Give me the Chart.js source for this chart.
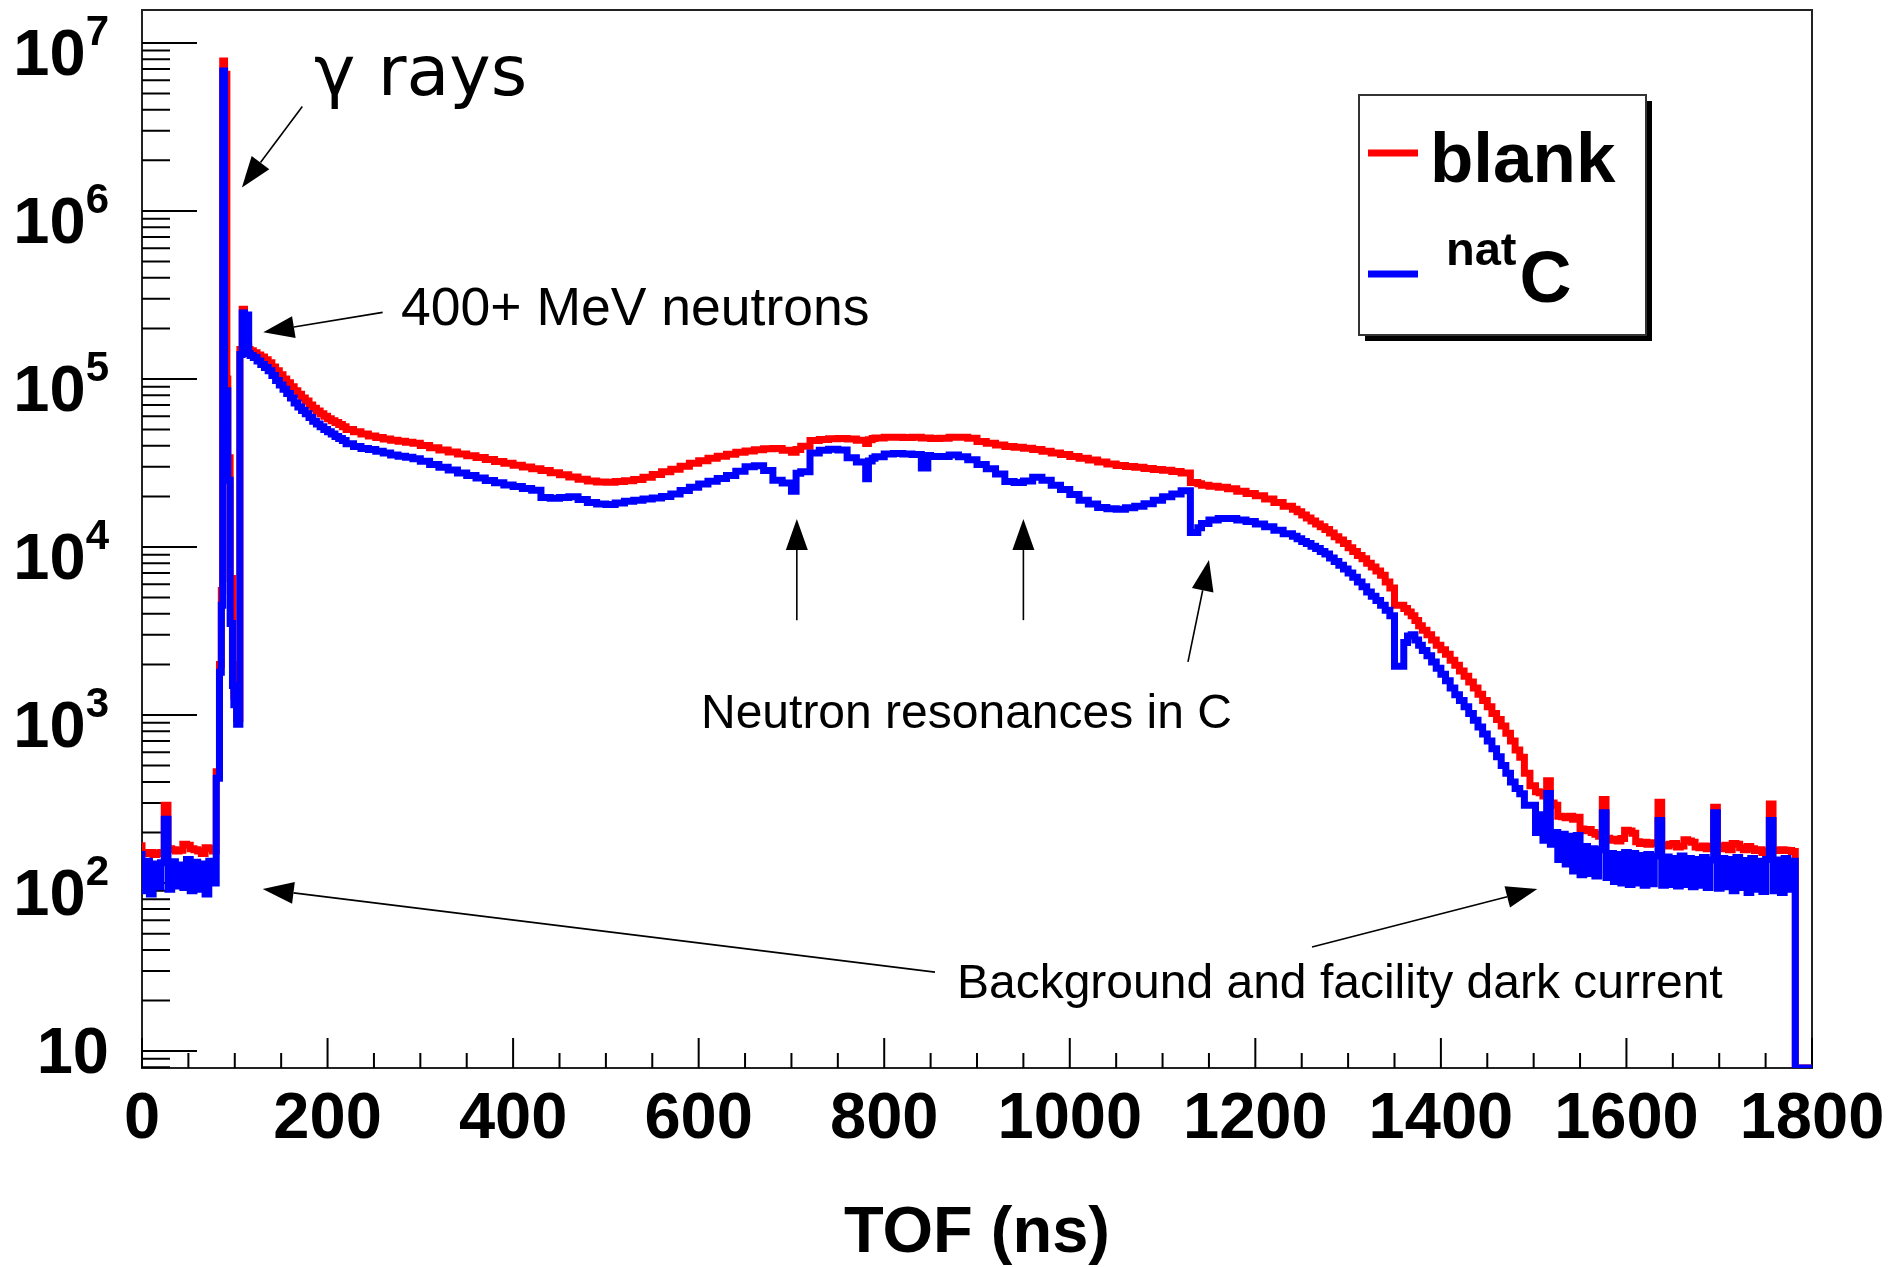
<!DOCTYPE html>
<html>
<head>
<meta charset="utf-8">
<title>TOF spectrum: blank vs natC</title>
<script src="https://cdn.jsdelivr.net/npm/chart.js@4.4.1/dist/chart.umd.min.js"></script>
<style>
  html, body { margin: 0; padding: 0; background: #fff; }
  #wrap { width: 1888px; height: 1267px; position: relative; }
</style>
</head>
<body>
<div id="wrap"><canvas id="tofChart"></canvas></div>
<script>
// Histogram bin low edges (ns). Fine bins around the gamma flash, the steep
// parts and the narrow carbon resonances, 4 ns bins in the background tails.
const tofEdges = [
  0, 4, 8, 12, 16, 20, 24, 28, 32, 36, 40, 44, 48, 52, 56, 60, 64, 68, 72, 76,
  80, 83.5, 85.5, 87, 89, 91.5, 92.5, 95, 97.5, 99, 102, 105.5, 108, 110.5, 115, 116.5, 120,
  124, 128, 132, 136, 140, 144, 148, 152, 156, 160,
  164, 168, 172, 176, 180, 184, 188, 192, 196, 200,
  204, 208, 212, 216,
  220, 228, 236, 244, 252, 260, 268, 276, 284, 292,
  300, 310, 320, 330, 340, 350, 360, 370, 380, 390,
  400, 410, 420, 430, 440, 450, 460, 470, 480, 490,
  500, 510, 520, 530, 540, 550, 560, 570, 580, 590,
  600, 610, 620, 630, 640, 650, 660, 670, 680, 690,
  700, 705, 710, 720, 730, 740, 750, 760, 770, 780,
  783, 787, 790, 800, 810, 820, 830, 840, 847, 850,
  860, 870, 880, 890, 900, 910, 920, 930, 940, 950,
  960, 970, 980, 990, 1000, 1010, 1020, 1030, 1040, 1050,
  1060, 1070, 1080, 1090, 1100, 1110, 1120, 1130, 1138, 1142,
  1150, 1160, 1170, 1180, 1190, 1200, 1210, 1220, 1230,
  1240, 1245, 1250, 1255, 1260, 1265, 1270, 1275, 1280, 1285,
  1290, 1295, 1300, 1305, 1310, 1315, 1320, 1325, 1330, 1335,
  1340, 1345, 1350, 1360, 1364, 1368, 1372, 1376, 1380, 1385,
  1390, 1395, 1400, 1405, 1410, 1415, 1420, 1425, 1430, 1435,
  1440, 1445, 1450, 1455, 1460, 1465, 1470, 1475, 1480, 1485,
  1490, 1496,
  1502, 1506, 1510, 1514, 1518, 1522, 1526, 1530, 1534, 1538,
  1542, 1546, 1550, 1554, 1558, 1562, 1566, 1570, 1574, 1578,
  1582, 1586, 1590, 1594, 1598, 1602, 1606, 1610, 1614, 1618,
  1622, 1626, 1630, 1634, 1638, 1642, 1646, 1650, 1654, 1658,
  1662, 1666, 1670, 1674, 1678, 1682, 1686, 1690, 1694, 1698,
  1702, 1706, 1710, 1714, 1718, 1722, 1726, 1730, 1734, 1738,
  1742, 1746, 1750, 1754, 1758, 1762, 1766, 1770, 1774, 1778,
  1782, 1786
];

// counts per bin, no target
const blankCounts = [
  175, 152, 150, 152, 148, 150, 152, 290, 160, 158, 155, 157, 170, 168, 160, 158, 155, 150, 162, 160,
  155, 460, 2000, 5500, 7.8e6, 6.5e6, 1.0e5, 3.4e4, 6.5e3, 2.0e3, 1.3e3, 950, 1.5e5, 2.6e5, 1.55e5, 1.5e5, 1.47e5,
  1.43e5, 1.39e5, 1.35e5, 1.3e5, 1.25e5, 1.18e5, 1.12e5, 1.06e5, 1.0e5, 9.5e4,
  9.0e4, 8.5e4, 8.1e4, 7.7e4, 7.4e4, 7.0e4, 6.7e4, 6.45e4, 6.2e4, 6.0e4,
  5.8e4, 5.65e4, 5.5e4, 5.35e4,
  5.2e4, 5.0e4, 4.85e4, 4.7e4, 4.58e4, 4.48e4, 4.4e4, 4.32e4, 4.26e4, 4.2e4,
  4.15e4, 4.02e4, 3.9e4, 3.78e4, 3.68e4, 3.58e4, 3.49e4, 3.41e4, 3.32e4, 3.23e4,
  3.15e4, 3.07e4, 2.99e4, 2.92e4, 2.85e4, 2.77e4, 2.69e4, 2.61e4, 2.53e4, 2.47e4,
  2.44e4, 2.43e4, 2.45e4, 2.48e4, 2.52e4, 2.6e4, 2.7e4, 2.8e4, 2.9e4, 3.02e4,
  3.15e4, 3.26e4, 3.37e4, 3.47e4, 3.57e4, 3.66e4, 3.73e4, 3.79e4, 3.84e4, 3.86e4,
  3.76e4, 3.66e4, 3.8e4, 3.98e4, 4.3e4, 4.37e4, 4.41e4, 4.42e4, 4.4e4, 4.32e4,
  4.13e4, 4.35e4, 4.43e4, 4.45e4, 4.5e4, 4.5e4, 4.48e4, 4.5e4, 4.45e4, 4.46e4,
  4.42e4, 4.44e4, 4.5e4, 4.5e4, 4.44e4, 4.25e4, 4.15e4, 4.05e4, 3.96e4, 3.92e4,
  3.87e4, 3.8e4, 3.72e4, 3.63e4, 3.55e4, 3.46e4, 3.37e4, 3.29e4, 3.2e4, 3.12e4,
  3.06e4, 3.01e4, 2.98e4, 2.93e4, 2.89e4, 2.86e4, 2.81e4, 2.76e4, 2.42e4, 2.38e4,
  2.33e4, 2.3e4, 2.27e4, 2.22e4, 2.15e4, 2.08e4, 2.02e4, 1.93e4, 1.84e4,
  1.75e4, 1.68e4, 1.62e4, 1.55e4, 1.49e4, 1.43e4, 1.37e4, 1.32e4, 1.27e4, 1.21e4,
  1.15e4, 1.1e4, 1.05e4, 9.9e3, 9.4e3, 8.9e3, 8.5e3, 8.0e3, 7.6e3, 7.2e3,
  6.8e3, 6.2e3, 5.7e3, 4.5e3, 4.3e3, 4.1e3, 3.9e3, 3.65e3, 3.4e3, 3.2e3,
  3.0e3, 2.8e3, 2.6e3, 2.45e3, 2.3e3, 2.12e3, 1.98e3, 1.83e3, 1.7e3, 1.57e3,
  1.45e3, 1.33e3, 1.22e3, 1.12e3, 1.02e3, 940, 860, 780, 700, 620,
  560, 450,
  380, 350, 345, 330, 406, 300, 290, 250, 248, 245,
  250, 240, 246, 210, 205, 208, 200, 195, 190, 314,
  185, 180, 182, 178, 184, 206, 204, 198, 176, 172,
  175, 170, 174, 172, 303, 168, 166, 170, 172, 164,
  166, 181, 178, 175, 164, 162, 166, 160, 165, 283,
  165, 160, 168, 158, 172, 170, 162, 158, 165, 160,
  156, 158, 152, 155, 295, 157, 156, 158, 157, 156,
  154, 0
];

// counts per bin, natural carbon target in the beam
const natCCounts = [
  155, 90, 135, 86, 130, 95, 132, 240, 92, 134, 96, 128, 94, 138, 90, 133, 92, 130, 86, 135,
  100, 420, 1800, 4500, 6.8e6, 8.5e4, 8.5e4, 2.5e4, 3.5e3, 1.5e3, 1.15e3, 880, 1.4e5, 2.47e5, 2.4e5, 1.42e5, 1.38e5,
  1.34e5, 1.28e5, 1.22e5, 1.17e5, 1.12e5, 1.05e5, 9.8e4, 9.2e4, 8.7e4, 8.2e4,
  7.7e4, 7.2e4, 6.8e4, 6.5e4, 6.2e4, 5.9e4, 5.6e4, 5.4e4, 5.2e4, 5.0e4,
  4.85e4, 4.7e4, 4.55e4, 4.42e4,
  4.3e4, 4.12e4, 3.97e4, 3.86e4, 3.8e4, 3.72e4, 3.62e4, 3.53e4, 3.47e4, 3.42e4,
  3.35e4, 3.24e4, 3.1e4, 2.98e4, 2.87e4, 2.76e4, 2.66e4, 2.57e4, 2.49e4, 2.41e4,
  2.34e4, 2.29e4, 2.23e4, 2.18e4, 1.97e4, 1.95e4, 1.97e4, 1.99e4, 1.92e4, 1.84e4,
  1.8e4, 1.79e4, 1.83e4, 1.87e4, 1.9e4, 1.93e4, 1.96e4, 2.0e4, 2.07e4, 2.17e4,
  2.27e4, 2.37e4, 2.46e4, 2.56e4, 2.66e4, 2.82e4, 3.0e4, 3.04e4, 2.85e4, 2.5e4,
  2.4e4, 2.15e4, 2.75e4, 2.8e4, 3.62e4, 3.76e4, 3.82e4, 3.78e4, 3.4e4, 3.2e4,
  2.55e4, 3.25e4, 3.37e4, 3.45e4, 3.58e4, 3.6e4, 3.58e4, 3.55e4, 2.95e4, 3.5e4,
  3.46e4, 3.46e4, 3.53e4, 3.45e4, 3.3e4, 3.1e4, 2.92e4, 2.72e4, 2.45e4, 2.42e4,
  2.47e4, 2.6e4, 2.5e4, 2.33e4, 2.2e4, 2.05e4, 1.9e4, 1.8e4, 1.72e4, 1.69e4,
  1.68e4, 1.71e4, 1.75e4, 1.81e4, 1.9e4, 1.99e4, 2.07e4, 2.16e4, 1.22e4, 1.3e4,
  1.38e4, 1.45e4, 1.48e4, 1.48e4, 1.45e4, 1.42e4, 1.37e4, 1.32e4, 1.26e4,
  1.2e4, 1.16e4, 1.12e4, 1.08e4, 1.05e4, 1.01e4, 9.8e3, 9.4e3, 9.1e3, 8.6e3,
  8.2e3, 7.8e3, 7.4e3, 7.0e3, 6.6e3, 6.2e3, 5.8e3, 5.4e3, 5.1e3, 4.8e3,
  4.5e3, 4.2e3, 3.9e3, 1.95e3, 2.7e3, 2.95e3, 3.0e3, 2.8e3, 2.6e3, 2.42e3,
  2.25e3, 2.07e3, 1.9e3, 1.75e3, 1.6e3, 1.45e3, 1.32e3, 1.22e3, 1.12e3, 1.02e3,
  930, 850, 770, 700, 630, 565, 500, 450, 400, 365,
  340, 290,
  290, 200, 255, 180, 341, 170, 200, 138, 195, 130,
  190, 118, 192, 112, 165, 114, 160, 110, 158, 262,
  108, 150, 102, 148, 100, 152, 98, 150, 100, 146,
  97, 148, 99, 145, 236, 97, 143, 98, 140, 96,
  145, 98, 140, 95, 138, 97, 142, 94, 137, 262,
  93, 140, 95, 138, 90, 142, 94, 136, 88, 140,
  92, 135, 89, 138, 236, 90, 137, 88, 140, 92,
  135, 0
];

const seriesLabels = ['blank', 'natC'];
const seriesColors = ['#ff0000', '#0000ff'];

// axis ranges and ticks
const TOF_MAX = 1800;
const Y_MIN = 7.93;
const Y_MAX = 1.57e7;
const xMajorTicks = [0, 200, 400, 600, 800, 1000, 1200, 1400, 1600, 1800];
const xMinorTicks = [50, 100, 150, 250, 300, 350, 450, 500, 550, 650, 700, 750,
  850, 900, 950, 1050, 1100, 1150, 1250, 1300, 1350, 1450, 1500, 1550, 1650, 1700, 1750];
const xTickLabels = ['0', '200', '400', '600', '800', '1000', '1200', '1400', '1600', '1800'];
const yDecades = [1, 2, 3, 4, 5, 6, 7];
const yMinorMantissas = [2, 3, 4, 5, 6, 7, 8, 9];

// annotations, placed in data coordinates (TOF ns, counts)
const notes = [
  { text: 'γ rays', tof: 185.4, counts: 4.9e6, font: '70px "DejaVu Sans"' },
  { text: '400+ MeV neutrons', tof: 279.2, counts: 2.1e5, font: '53.5px "Liberation Sans"' },
  { text: 'Neutron resonances in C', tof: 602.5, counts: 837, font: '48px "Liberation Sans"' },
  { text: 'Background and facility dark current', tof: 878.4, counts: 20.7, font: '48px "Liberation Sans"' }
];
const arrows = [
  { from: [172.8, 4.18e6], to: [107.7, 1.38e6] },
  { from: [259.4, 2.49e5], to: [130.7, 1.9e5] },
  { from: [705.8, 3.67e3], to: [705.8, 1.47e4] },
  { from: [950.0, 3.67e3], to: [950.0, 1.47e4] },
  { from: [1127.4, 2.07e3], to: [1150.0, 8.38e3] },
  { from: [854.7, 29.5], to: [130.1, 92.1] },
  { from: [1261.1, 41.6], to: [1503.9, 92.1] }
];

if (blankCounts.length !== tofEdges.length || natCCounts.length !== tofEdges.length) {
  console.error('bin count mismatch', tofEdges.length, blankCounts.length, natCCounts.length);
}

// empty bins sit on the bottom of the frame, like ROOT does on a log axis
function histPoints(counts) {
  const pts = tofEdges.map((t, i) => ({ x: t, y: counts[i] > 0 ? counts[i] : Y_MIN }));
  const last = counts[counts.length - 1];
  pts.push({ x: TOF_MAX, y: last > 0 ? last : Y_MIN });
  return pts;
}

const AXIS_FONT = '"Liberation Sans", Arial, sans-serif';

function drawArrow(ctx, x1, y1, x2, y2) {
  const ang = Math.atan2(y2 - y1, x2 - x1);
  const len = 31, half = 11;
  const bx = x2 - len * Math.cos(ang), by = y2 - len * Math.sin(ang);
  ctx.beginPath();
  ctx.moveTo(x1, y1);
  ctx.lineTo(bx, by);
  ctx.stroke();
  ctx.beginPath();
  ctx.moveTo(x2, y2);
  ctx.lineTo(bx + half * Math.sin(ang), by - half * Math.cos(ang));
  ctx.lineTo(bx - half * Math.sin(ang), by + half * Math.cos(ang));
  ctx.closePath();
  ctx.fill();
}

// frame, ticks and axis labels in ROOT style
const rootAxes = {
  id: 'rootAxes',
  beforeDatasetsDraw(chart) {
    const { ctx, chartArea: a, scales: { x, y } } = chart;
    ctx.save();
    ctx.strokeStyle = '#222';
    ctx.lineWidth = 2;
    ctx.strokeRect(a.left, a.top, a.right - a.left, a.bottom - a.top);

    ctx.strokeStyle = '#000';
    ctx.beginPath();
    xMajorTicks.forEach(v => {
      const px = x.getPixelForValue(v);
      ctx.moveTo(px, a.bottom); ctx.lineTo(px, a.bottom - 30);
    });
    xMinorTicks.forEach(v => {
      const px = x.getPixelForValue(v);
      ctx.moveTo(px, a.bottom); ctx.lineTo(px, a.bottom - 15);
    });
    yDecades.forEach(d => {
      const py = y.getPixelForValue(Math.pow(10, d));
      ctx.moveTo(a.left, py); ctx.lineTo(a.left + 55, py);
    });
    [0].concat(yDecades).forEach(d => {
      yMinorMantissas.forEach(m => {
        const v = m * Math.pow(10, d);
        if (v < Y_MIN || v > Y_MAX) return;
        const py = y.getPixelForValue(v);
        ctx.moveTo(a.left, py); ctx.lineTo(a.left + 28, py);
      });
    });
    ctx.stroke();

    ctx.fillStyle = '#000';
    ctx.font = 'bold 65px ' + AXIS_FONT;
    ctx.textAlign = 'center';
    ctx.textBaseline = 'alphabetic';
    xMajorTicks.forEach((v, i) => {
      ctx.fillText(xTickLabels[i], x.getPixelForValue(v), a.bottom + 70);
    });

    const right = a.left - 33;
    ctx.textAlign = 'right';
    yDecades.forEach(d => {
      const py = y.getPixelForValue(Math.pow(10, d));
      if (d === 1) {
        ctx.font = 'bold 65px ' + AXIS_FONT;
        ctx.fillText('10', right, py + 22);
        return;
      }
      const sup = String(d);
      ctx.font = 'bold 42px ' + AXIS_FONT;
      const w = ctx.measureText(sup).width;
      ctx.fillText(sup, right, py + 2);
      ctx.font = 'bold 65px ' + AXIS_FONT;
      ctx.fillText('10', right - w, py + 32);
    });

    ctx.textAlign = 'center';
    ctx.font = 'bold 65px ' + AXIS_FONT;
    ctx.fillText('TOF (ns)', (a.left + a.right) / 2, a.bottom + 184);
    ctx.restore();
  },

  afterDatasetsDraw(chart) {
    const { ctx, scales: { x, y } } = chart;
    ctx.save();

    // legend box with ROOT drop shadow
    const box = { x: 1359, y: 95, w: 287, h: 240, shadow: 6 };
    ctx.fillStyle = '#000';
    ctx.fillRect(box.x + box.shadow, box.y + box.shadow, box.w, box.h);
    ctx.fillStyle = '#fff';
    ctx.fillRect(box.x, box.y, box.w, box.h);
    ctx.strokeStyle = '#333';
    ctx.lineWidth = 2;
    ctx.strokeRect(box.x, box.y, box.w, box.h);

    const rows = [153, 274];
    ctx.lineWidth = 7;
    chart.data.datasets.forEach((ds, i) => {
      ctx.strokeStyle = ds.borderColor;
      ctx.beginPath();
      ctx.moveTo(1368, rows[i]);
      ctx.lineTo(1418, rows[i]);
      ctx.stroke();
    });
    ctx.fillStyle = '#000';
    ctx.textAlign = 'left';
    ctx.textBaseline = 'alphabetic';
    ctx.font = 'bold 71px ' + AXIS_FONT;
    ctx.fillText('blank', 1430, rows[0] + 29);
    ctx.font = 'bold 47px ' + AXIS_FONT;
    ctx.fillText('nat', 1446, rows[1] - 9);
    const wNat = ctx.measureText('nat').width;
    ctx.font = 'bold 72px ' + AXIS_FONT;
    ctx.fillText('C', 1446 + wNat + 3, rows[1] + 28);

    // text notes and arrows
    notes.forEach(n => {
      ctx.font = n.font;
      ctx.fillText(n.text, x.getPixelForValue(n.tof), y.getPixelForValue(n.counts));
    });
    ctx.strokeStyle = '#000';
    ctx.fillStyle = '#000';
    ctx.lineWidth = 1.6;
    arrows.forEach(ar => {
      drawArrow(ctx,
        x.getPixelForValue(ar.from[0]), y.getPixelForValue(ar.from[1]),
        x.getPixelForValue(ar.to[0]), y.getPixelForValue(ar.to[1]));
    });
    ctx.restore();
  }
};

new Chart(document.getElementById('tofChart'), {
  type: 'line',
  data: {
    datasets: [
      {
        label: seriesLabels[0],
        data: histPoints(blankCounts),
        borderColor: seriesColors[0],
        borderWidth: 7,
        stepped: 'after',
        pointRadius: 0,
        fill: false,
        order: 1
      },
      {
        label: seriesLabels[1],
        data: histPoints(natCCounts),
        borderColor: seriesColors[1],
        borderWidth: 7,
        stepped: 'after',
        pointRadius: 0,
        fill: false,
        order: 0
      }
    ]
  },
  options: {
    responsive: true,
    maintainAspectRatio: false,
    animation: false,
    devicePixelRatio: 1,
    events: [],
    layout: { padding: { left: 142, right: 76, top: 10, bottom: 199 } },
    plugins: { legend: { display: false }, tooltip: { enabled: false } },
    scales: {
      x: { type: 'linear', min: 0, max: TOF_MAX, display: false },
      y: { type: 'logarithmic', min: Y_MIN, max: Y_MAX, display: false }
    }
  },
  plugins: [rootAxes]
});
</script>
</body>
</html>
